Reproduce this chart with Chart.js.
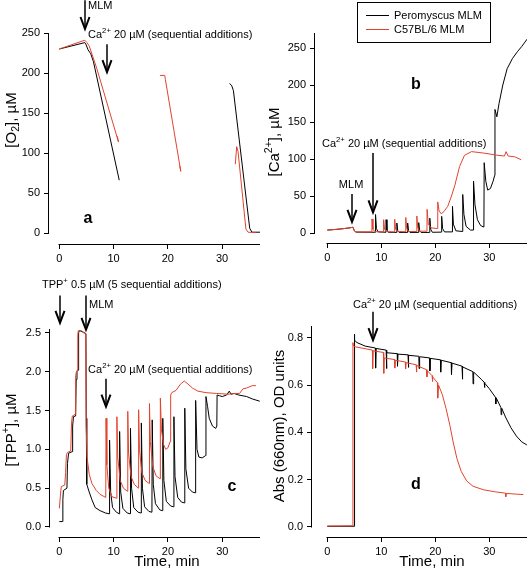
<!DOCTYPE html>
<html>
<head>
<meta charset="utf-8">
<script src="https://cdn.jsdelivr.net/npm/chart.js@4.4.1/dist/chart.umd.min.js"></script>
<style>
  body { margin: 0; background: #fff; }
  #wrap { position: relative; width: 529px; height: 575px; }
  canvas { position: absolute; }
</style>
</head>
<body>
<div id="wrap">
  <canvas id="panelA" width="264" height="276" style="left:0;top:0"></canvas>
  <canvas id="panelB" width="265" height="276" style="left:264px;top:0"></canvas>
  <canvas id="panelC" width="264" height="299" style="left:0;top:276px"></canvas>
  <canvas id="panelD" width="265" height="299" style="left:264px;top:276px"></canvas>
</div>
<script>
/* ── Data (time in min) ───────────────────────── */
const seriesNames = ['Peromyscus MLM', 'C57BL/6 MLM'];
const timeTicks = [0, 10, 20, 30];
const o2Ticks = [0, 50, 100, 150, 200, 250];
const caTicks = [0, 50, 100, 150, 200, 250];
const tppTicks = [0, 0.5, 1, 1.5, 2, 2.5];
const absTicks = [0, 0.2, 0.4, 0.6, 0.8];

// a: [O2]
const aBlackT = [0, 4.7, 4.9, 5.3, 5.8, 6.3, 11.05, 20, 31.4, 31.8, 32.1, 35.1, 35.5, 37];
const aBlackV = [230, 238, 236, 229, 224, 214, 66, null, 187, 184, 178, 6, 1, 1];
const aRedT = [0, 4.7, 5.1, 5.5, 6.9, 10.9, 10.7, 15, 18.55, 19.45, 19.55, 22.4, 22.2, 27, 32.45, 32.7, 32.95, 34.4, 34.8, 36.2];
const aRedV = [230, 241, 238, 234, 206, 114, 121, null, 197, 197, 192, 77, 84, null, 86, 108, 102, 5, 1, 0.5];

// b: [Ca2+]
const bBlackT = [0, 1, 2.5, 4, 4.75, 5.0, 5.3, 8.9, 8.93, 9.1, 9.4, 10.85, 10.88, 11.05, 11.3, 12.85, 12.88, 13.05, 13.3,
  14.85, 14.88, 15.05, 15.3, 16.9, 16.93, 17.1, 17.35, 18.95, 18.98, 19.15, 19.45, 21.15, 21.18, 21.35, 21.7,
  23.15, 23.18, 23.35, 23.8, 25.05, 25.08, 25.3, 25.7, 26.5, 27.05, 27.08, 27.35, 27.8, 28.4, 29.0, 29.05, 29.35,
  29.7, 30.2, 30.7, 31.0, 31.05, 31.4, 31.8, 32.5, 33.3, 34.3, 35.2, 36.0, 36.6, 37];
const bBlackV = [4, 4.5, 5.5, 6.8, 7.8, 3, 1.2, 1, 25, 6, 1.5, 1, 18, 4, 1, 0.8, 13.5, 3, 0.8,
  0.8, 13.5, 3, 0.8, 0.8, 14, 3, 0.8, 0.8, 20, 5, 1, 1.2, 22.5, 6, 1.5,
  1.5, 36, 12, 3, 2, 52, 25, 9, 4, 4, 70, 38, 18, 10, 8, 95, 70,
  58, 60, 70, 78, 167, 157, 175, 200, 222, 236, 245, 252, 258, 262];
const bRedT = [0, 1, 2.5, 4, 4.75, 5.0, 5.3, 8.25, 8.28, 8.45, 8.8, 10.4, 10.43, 10.6, 10.95, 12.45, 12.48, 12.65, 13.0,
  14.5, 14.53, 14.7, 15.05, 16.55, 16.58, 16.75, 17.1, 18.45, 18.48, 18.7, 19.2, 20.4, 20.45, 20.7, 21.1, 21.6,
  22.3, 23.0, 23.6, 24.5, 25.4, 26.7, 29.0, 31.6, 32.8, 33.1, 33.5, 34.7, 35.9];
const bRedV = [4, 4.5, 5.5, 6.8, 7.8, 3, 1.5, 1.5, 19, 5, 1.8, 1.5, 18, 5, 1.8, 1.5, 18.5, 5, 2,
  1.8, 21, 6, 2, 2, 23, 7, 2.5, 2.5, 32, 12, 7, 6, 42, 30, 26, 29,
  36, 50, 64, 90, 105, 110, 108, 105, 104, 110, 104, 103, 99];

// c: [TPP+]
const cBlackT = [0, 0.6, 0.65, 0.75, 1.4, 1.5, 1.7, 2.35, 2.45, 2.6, 3.0, 3.1, 3.25, 3.45, 3.55, 3.7, 4.4, 4.9, 4.95, 5.05,
  5.5, 6.0, 6.6, 7.5, 8.5, 9.2, 9.25, 9.45, 9.8, 10.5, 11.05, 11.1, 11.3, 11.7, 12.5, 13.05,
  13.1, 13.3, 13.7, 14.5, 15.05, 15.1, 15.3, 15.7, 16.5, 17.05, 17.1, 17.3, 17.7, 18.5, 19.0,
  19.05, 19.25, 19.7, 20.5, 21.05, 21.1, 21.3, 21.8, 22.5, 23.05, 23.1, 23.3, 23.8, 24.5, 25.05,
  25.1, 25.35, 25.7, 26.3, 26.95, 27.0, 27.3, 27.6, 28.2, 28.8, 29.0,
  29.05, 29.5, 30.0, 30.8, 31.3, 31.6, 32.2, 33.0, 34.5, 35.5, 36.9];
const cBlackV = [0.07, 0.07, 0.35, 0.47, 0.5, 0.82, 0.95, 0.97, 1.3, 1.42, 1.43, 1.9, 2.0, 2.02, 2.5, 2.53, 2.51, 2.49, 1.4, 0.55,
  0.45, 0.35, 0.25, 0.21, 0.18, 0.17, 1.12, 0.45, 0.25, 0.19, 0.17, 1.23, 0.45, 0.24, 0.18, 0.17,
  1.27, 0.5, 0.25, 0.19, 0.18, 1.34, 0.5, 0.26, 0.2, 0.19, 1.38, 0.55, 0.3, 0.22, 0.21,
  1.40, 0.6, 0.33, 0.27, 0.26, 1.42, 0.65, 0.38, 0.32, 0.31, 1.53, 0.75, 0.5, 0.45, 0.44,
  1.63, 1.0, 0.9, 0.89, 0.92, 1.68, 1.55, 1.4, 1.3, 1.27, 1.3,
  1.7, 1.69, 1.68, 1.7, 1.75, 1.71, 1.72, 1.7, 1.68, 1.65, 1.62];
const cRedT = [0, 0.25, 0.35, 1.0, 1.15, 1.3, 1.5, 2.1, 2.25, 2.4, 2.9, 3.0, 3.15, 3.3, 3.4, 3.5, 4.0, 4.5, 4.85, 4.95,
  5.1, 5.5, 6.0, 6.8, 7.5, 8.55, 8.6, 8.75, 9.1, 9.7, 10.55, 10.6, 10.75, 11.2, 11.8, 12.55,
  12.6, 12.75, 13.2, 13.8, 14.55, 14.6, 14.75, 15.2, 15.8, 16.55, 16.6, 16.75, 17.2, 17.8, 18.55,
  18.6, 18.8, 19.2, 19.6, 20.0, 20.4, 20.5, 20.7, 21.5, 22.3, 23.0, 23.7, 24.5, 25.5, 27, 29, 31,
  32.5, 33.2, 33.8, 34.5, 35.5, 36.2];
const cRedV = [0.24, 0.45, 0.52, 0.54, 0.7, 0.93, 0.96, 0.98, 1.35, 1.43, 1.45, 1.95, 2.0, 2.02, 2.48, 2.53, 2.53, 2.5, 2.49, 1.3,
  0.9, 0.68, 0.56, 0.47, 0.42, 0.38, 1.40, 0.8, 0.5, 0.39, 0.37, 1.42, 0.9, 0.6, 0.5, 0.46,
  1.49, 0.95, 0.65, 0.55, 0.5, 1.51, 1.0, 0.7, 0.6, 0.56, 1.59, 1.1, 0.78, 0.66, 0.62,
  1.66, 1.25, 1.06, 1.0, 1.02, 1.1, 1.7, 1.73, 1.76, 1.84, 1.88, 1.84, 1.79, 1.75, 1.73, 1.72, 1.71,
  1.72, 1.72, 1.78, 1.79, 1.82, 1.82];

// d: Abs 660 nm
const dBlackT = [0, 4.95, 5.0, 5.05, 5.1, 5.5, 7.0, 8.9, 8.95, 9.05, 10.9, 10.95, 11.05, 12.95, 13.0, 13.1, 14.95, 15.0, 15.1,
  16.95, 17.0, 17.1, 18.95, 19.0, 19.1, 20.95, 21.0, 21.1, 22.95, 23.0, 23.1, 24.95, 25.0, 25.1, 26.95, 27.0, 27.1,
  28.5, 29.05, 29.1, 29.2, 30.0, 31.15, 31.2, 31.3, 32.15, 32.2, 32.3, 33.0, 34.0, 35.0, 36.0, 36.95];
const dBlackV = [0.003, 0.003, 0.815, 0.71, 0.79, 0.78, 0.765, 0.757, 0.672, 0.755, 0.748, 0.67, 0.737, 0.733, 0.68, 0.731, 0.728, 0.675, 0.726,
  0.722, 0.67, 0.72, 0.715, 0.66, 0.713, 0.707, 0.655, 0.705, 0.695, 0.645, 0.693, 0.68, 0.625, 0.677, 0.657, 0.605, 0.655,
  0.625, 0.612, 0.59, 0.608, 0.585, 0.548, 0.52, 0.545, 0.505, 0.475, 0.502, 0.465, 0.42, 0.385, 0.36, 0.347];
const dRedT = [0, 4.7, 4.75, 4.85, 5.2, 8.35, 8.4, 8.5, 10.4, 10.45, 10.55, 12.45, 12.5, 12.6, 14.45, 14.5, 14.6,
  16.45, 16.5, 16.6, 18.4, 18.45, 18.55, 19.4, 19.45, 19.55, 20.4, 20.45, 20.6, 21.3, 22.0, 22.7, 23.3, 24.0,
  24.8, 25.8, 27.0, 29.0, 31.0, 33.0, 33.05, 33.15, 35.0, 36.3];
const dRedV = [0.004, 0.005, 0.78, 0.765, 0.762, 0.748, 0.67, 0.745, 0.738, 0.65, 0.715, 0.708, 0.672, 0.705, 0.698, 0.668, 0.695,
  0.686, 0.655, 0.683, 0.665, 0.635, 0.66, 0.64, 0.615, 0.635, 0.61, 0.545, 0.6, 0.56, 0.5, 0.43, 0.36, 0.29,
  0.235, 0.195, 0.172, 0.157, 0.149, 0.143, 0.128, 0.142, 0.139, 0.137];

/* ── Helpers ──────────────────────────────────── */
const FONT = '"Liberation Sans", Arial, Helvetica, sans-serif';
const BLACK = '#000000';
const RED = '#e2432c';
Chart.defaults.font.family = FONT;
Chart.defaults.color = '#000';

const pts = (t, v) => t.map((x, i) => ({ x, y: v[i] }));

const CA = [['Ca'], ['2+', 'sup'], [' 20 \u00b5M (sequential additions)']];

function richWidth(ctx, parts, size) {
    let w = 0;
    for (const [s, k] of parts) {
        ctx.font = (k ? size * 0.7 : size) + 'px ' + FONT;
        w += ctx.measureText(s).width;
    }
    return w;
}

function richText(ctx, parts, x, y, size) {
    let cx = x;
    ctx.textBaseline = 'middle';
    ctx.textAlign = 'left';
    for (const [s, k] of parts) {
        ctx.font = (k ? size * 0.7 : size) + 'px ' + FONT;
        const dy = k === 'sup' ? -size * 0.38 : k === 'sub' ? size * 0.3 : 0;
        ctx.fillText(s, cx, y + dy);
        cx += ctx.measureText(s).width;
    }
}

function arrow(ctx, x, y1, y2) {
    ctx.lineWidth = 1.5;
    ctx.beginPath();
    ctx.moveTo(x, y1);
    ctx.lineTo(x, y2);
    ctx.stroke();
    ctx.lineWidth = 2;
    ctx.beginPath();
    ctx.moveTo(x - 4.5, y2 - 12);
    ctx.lineTo(x, y2);
    ctx.lineTo(x + 4.5, y2 - 12);
    ctx.stroke();
}

function makeDecor(cfg) {
    return {
        id: 'decor',
        afterDraw(chart) {
            const { ctx, chartArea: ca, scales: { x, y } } = chart;
            const px = (v) => x.getPixelForValue(v);
            const py = (v) => y.getPixelForValue(v);
            ctx.save();
            ctx.strokeStyle = '#000';
            ctx.fillStyle = '#000';

            // open axes (Igor style)
            ctx.lineWidth = 1;
            const ax = Math.round(ca.left) - 0.5;
            const ay = Math.round(ca.bottom) + 0.5;
            ctx.beginPath();
            ctx.moveTo(ax, Math.round(py(0)) + 0.5);
            ctx.lineTo(ax, ca.top);
            ctx.moveTo(Math.round(px(0)) - 0.5, ay);
            ctx.lineTo(ca.right, ay);
            ctx.stroke();

            // axis titles
            const yt = cfg.yTitle;
            ctx.save();
            ctx.translate(yt.x, yt.y);
            ctx.rotate(-Math.PI / 2);
            richText(ctx, yt.parts, -richWidth(ctx, yt.parts, 15) / 2, 0, 15);
            ctx.restore();
            if (cfg.xTitle) {
                ctx.font = '15px ' + FONT;
                ctx.textAlign = 'center';
                ctx.textBaseline = 'middle';
                ctx.fillText(cfg.xTitle.text, cfg.xTitle.x, cfg.xTitle.y);
            }

            // additions
            (cfg.arrows || []).forEach((a) => arrow(ctx, Math.round(px(a.x)), py(a.from), py(a.to)));
            (cfg.texts || []).forEach((t) => {
                const w = richWidth(ctx, t.parts, 11);
                const x0 = t.align === 'center' ? px(t.x) - w / 2 : px(t.x);
                richText(ctx, t.parts, x0, py(t.y), 11);
            });

            // panel letter
            ctx.font = 'bold 16px ' + FONT;
            ctx.textAlign = 'center';
            ctx.textBaseline = 'middle';
            ctx.fillText(cfg.tag.text, px(cfg.tag.x), py(cfg.tag.y));

            // legend box
            if (cfg.legend) {
                const L = cfg.legend;
                ctx.lineWidth = 1;
                ctx.strokeRect(L.x + 0.5, L.y + 0.5, L.w, L.h);
                chart.data.datasets.forEach((ds, i) => {
                    const ly = L.y + 13 + i * 14 + 0.5;
                    ctx.strokeStyle = ds.borderColor;
                    ctx.beginPath();
                    ctx.moveTo(L.x + 9, ly);
                    ctx.lineTo(L.x + 32, ly);
                    ctx.stroke();
                    ctx.font = '11px ' + FONT;
                    ctx.textAlign = 'left';
                    ctx.textBaseline = 'middle';
                    ctx.fillText(ds.label, L.x + 37, ly);
                });
            }
            ctx.restore();
        },
    };
}

function makePanel(id, cfg) {
    const canvas = document.getElementById(id);
    const W = canvas.width;
    const H = canvas.height;
    const [left, top, right, bottom] = cfg.area;
    const axisStyle = {
        border: { display: false },
        grid: {
            display: true,
            drawOnChartArea: false,
            drawTicks: true,
            tickLength: 5,
            color: '#000',
            lineWidth: 1,
        },
    };

    new Chart(canvas, {
        type: 'line',
        data: {
            datasets: [
                { label: seriesNames[0], data: pts(cfg.black[0], cfg.black[1]), borderColor: BLACK, order: 1 },
                { label: seriesNames[1], data: pts(cfg.red[0], cfg.red[1]), borderColor: RED, order: 0 },
            ],
        },
        options: {
            responsive: false,
            animation: false,
            events: [],
            spanGaps: false,
            layout: { padding: { top, right: W - right, left: 0, bottom: 0 } },
            elements: {
                point: { radius: 0 },
                line: { borderWidth: 1, tension: 0 },
            },
            plugins: {
                legend: { display: false },
                tooltip: { enabled: false },
            },
            scales: {
                x: {
                    type: 'linear',
                    min: cfg.xMin,
                    max: cfg.xMax,
                    ...axisStyle,
                    afterBuildTicks: (s) => { s.ticks = timeTicks.map((v) => ({ value: v })); },
                    afterFit: (s) => { s.height = H - bottom; },
                    ticks: { font: { size: 11 }, padding: 3, maxRotation: 0, autoSkip: false },
                },
                y: {
                    type: 'linear',
                    min: cfg.yMin,
                    max: cfg.yMax,
                    ...axisStyle,
                    afterBuildTicks: (s) => { s.ticks = cfg.yTicks.map((v) => ({ value: v })); },
                    afterFit: (s) => { s.width = left; },
                    ticks: {
                        font: { size: 11 },
                        padding: 4,
                        autoSkip: false,
                        callback: (v) => (cfg.yDigits ? v.toFixed(cfg.yDigits) : v),
                    },
                },
            },
        },
        plugins: [makeDecor(cfg)],
    });
}

/* ── Panels ───────────────────────────────────── */
makePanel('panelA', {
    area: [49, 33, 260, 244],
    xMin: -1.9, xMax: 37, yMin: -13.75, yMax: 250, yTicks: o2Ticks,
    black: [aBlackT, aBlackV], red: [aRedT, aRedV],
    yTitle: { x: 12, y: 120, parts: [['[O'], ['2', 'sub'], ['], \u00b5M']] },
    arrows: [{ x: 4.73, from: 291, to: 255 }, { x: 8.8, from: 236, to: 201 }],
    texts: [
        { x: 5.3, y: 284, parts: [['MLM']] },
        { x: 5.3, y: 247.5, parts: CA },
    ],
    tag: { x: 5.3, y: 17.5, text: 'a' },
});

makePanel('panelB', {
    area: [51, 33, 263, 243],
    xMin: -2.28, xMax: 36.98, yMin: -13.5, yMax: 270.3, yTicks: caTicks,
    black: [bBlackT, bBlackV], red: [bRedT, bRedV],
    yTitle: { x: 11, y: 142, parts: [['[Ca'], ['2+', 'sup'], ['], \u00b5M']] },
    arrows: [{ x: 8.46, from: 108, to: 28 }, { x: 4.57, from: 52.7, to: 15 }],
    texts: [
        { x: -0.98, y: 120, parts: CA },
        { x: 4.4, y: 65, parts: [['MLM']], align: 'center' },
    ],
    tag: { x: 16.4, y: 200, text: 'b' },
    legend: { x: 93, y: 2, w: 133, h: 40 },
});

makePanel('panelC', {
    area: [50, 53, 260, 261],
    xMin: -1.72, xMax: 36.95, yMin: -0.129, yMax: 2.55, yTicks: tppTicks, yDigits: 1,
    black: [cBlackT, cBlackV], red: [cRedT, cRedV],
    yTitle: { x: 12, y: 154, parts: [['[TPP'], ['+', 'sup'], ['], \u00b5M']] },
    xTitle: { x: 167, y: 286, text: 'Time, min' },
    arrows: [
        { x: 0.13, from: 2.98, to: 2.63 },
        { x: 4.92, from: 2.98, to: 2.54 },
        { x: 8.6, from: 1.91, to: 1.55 },
    ],
    texts: [
        { x: -3.2, y: 3.12, parts: [['TPP'], ['+', 'sup'], [' 0.5 \u00b5M (5 sequential additions)']] },
        { x: 5.47, y: 2.86, parts: [['MLM']] },
        { x: 5.3, y: 2.02, parts: CA },
    ],
    tag: { x: 31.8, y: 0.52, text: 'c' },
});

makePanel('panelD', {
    area: [48, 50, 263, 261],
    xMin: -2.83, xMax: 36.98, yMin: -0.0423, yMax: 0.85, yTicks: absTicks, yDigits: 1,
    black: [dBlackT, dBlackV], red: [dRedT, dRedV],
    yTitle: { x: 16, y: 150, parts: [['Abs (660nm), OD units']] },
    xTitle: { x: 168, y: 286, text: 'Time, min' },
    arrows: [{ x: 8.46, from: 0.91, to: 0.79 }],
    texts: [{ x: 4.76, y: 0.94, parts: CA }],
    tag: { x: 16.4, y: 0.18, text: 'd' },
});
</script>
</body>
</html>
